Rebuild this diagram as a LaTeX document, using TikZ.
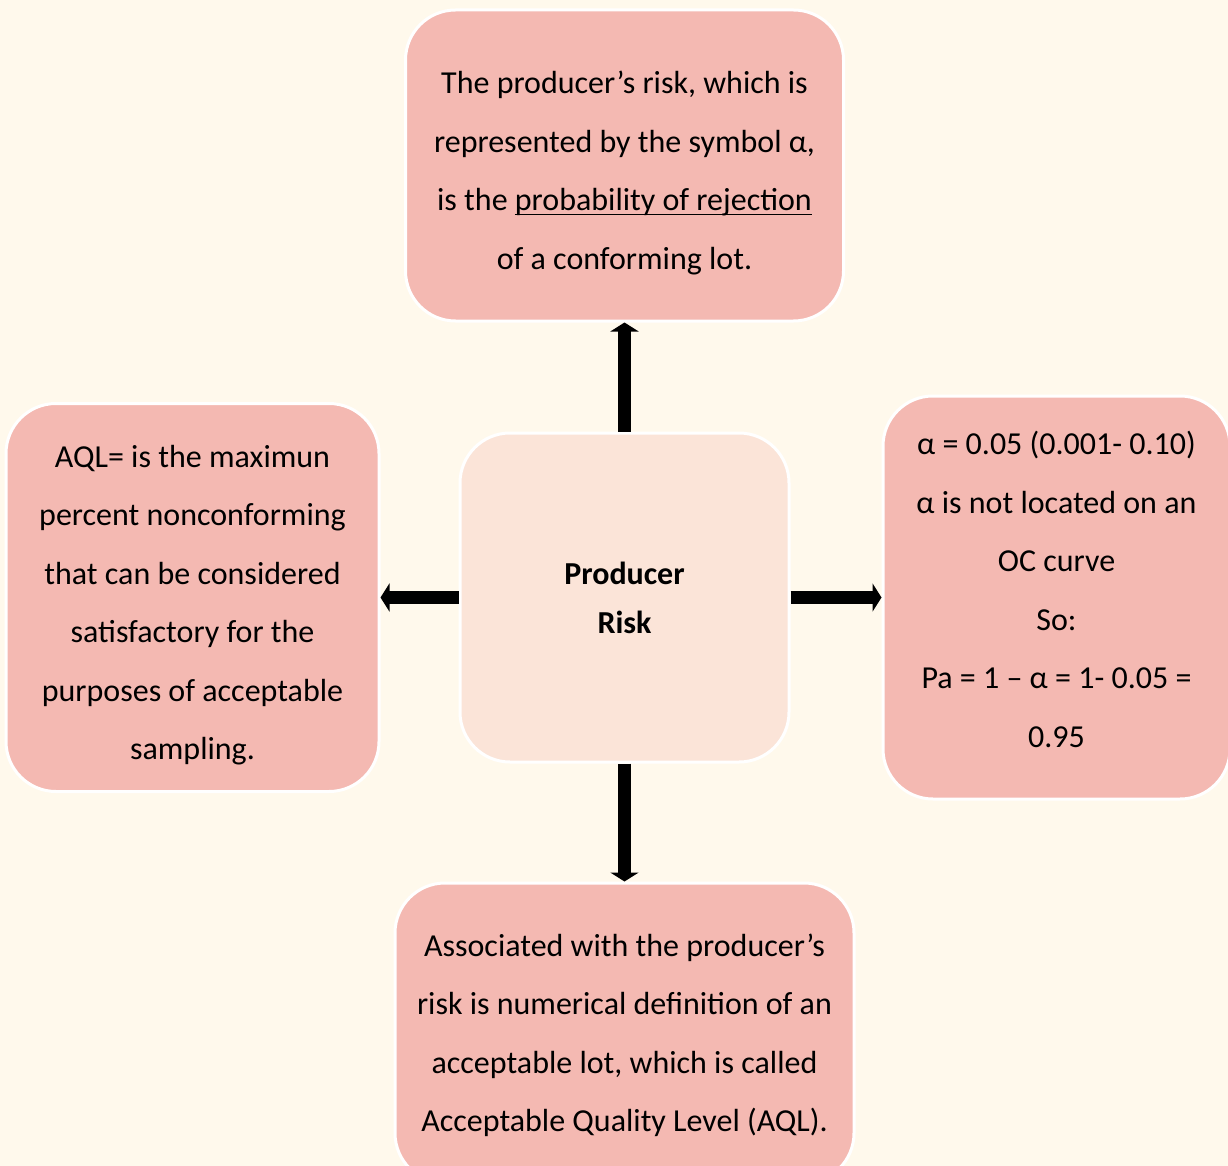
\documentclass[tikz,border=0pt]{standalone}
\usepackage{fontspec}
\setmainfont{Carlito}
\usetikzlibrary{arrows.meta, positioning}

\definecolor{cream}{HTML}{FFF9EC}
\definecolor{riskpink}{HTML}{F4B9B2}
\definecolor{centrepink}{HTML}{FBE4D8}

\newcommand{\underlined}[1]{\leavevmode\setbox0\hbox{#1}%
    \rlap{\rule[-4.5pt]{\wd0}{1.7pt}}\box0}

\begin{document}
\begin{tikzpicture}[x=1pt, y=-1pt,
    riskbox/.style={rectangle, rounded corners=50pt, draw=white, line width=3pt,
        fill=riskpink, inner sep=0pt},
    risktext/.style={align=center, inner sep=0pt,
        font=\fontsize{32}{58.5}\selectfont},
    centrebox/.style={rectangle, rounded corners=50pt, draw=white, line width=3pt,
        fill=centrepink, align=center, inner sep=0pt,
        minimum width=329pt, minimum height=329pt,
        font=\fontsize{32}{49}\selectfont\bfseries},
    thick_arrow/.style={line width=13pt, -{Triangle[width=28pt, length=9pt]}}]

        \fill[cream] (0,0) rectangle (1228,1166);
        \useasboundingbox (0,0) rectangle (1228,1166);

        \node[centrebox] (risk_c) at (624.5,597.5) {Producer\\Risk};

        \node[riskbox, minimum width=438pt, minimum height=311pt]
              (risk_top) [above=109pt of risk_c] {};
        \node[risktext] (text_top) at ([yshift=-7.5pt]risk_top.center)
              {The producer’s risk, which is\\
               represented by the symbol α,\\
               is the \underlined{probability of rejection}\\
               of a conforming lot.};

        \node[riskbox, minimum width=373pt, minimum height=388pt]
              (risk_left) [left=78pt of risk_c] {};
        \node[risktext] (text_left) at ([yshift=-7.5pt]risk_left.center)
              {AQL= is the maximun\\
               percent nonconforming\\
               that can be considered\\
               satisfactory for the\\
               purposes of acceptable\\
               sampling.};

        \node[riskbox, minimum width=347pt, minimum height=403pt]
              (risk_right) [right=91pt of risk_c] {};
        \node[risktext] (text_right) at ([yshift=8pt]risk_right.center)
              {α = 0.05 (0.001- 0.10)\\
               α is not located on an\\
               OC curve\\
               So:\\
               Pa = 1 – α = 1- 0.05 =\\
               0.95};

        \node[riskbox, minimum width=459pt, minimum height=300pt]
              (risk_bottom) [below=118pt of risk_c] {};
        \node[risktext] (text_bottom) at ([yshift=-2.5pt]risk_bottom.center)
              {Associated with the producer’s\\
               risk is numerical definition of an\\
               acceptable lot, which is called\\
               Acceptable Quality Level (AQL).};

        \draw[thick_arrow] (risk_c.north) -- (risk_top.south);
        \draw[thick_arrow] (risk_c.west) -- (risk_left.east);
        \draw[thick_arrow] (risk_c.east) -- (risk_right.west);
        \draw[thick_arrow] (risk_c.south) -- (risk_bottom.north);

\end{tikzpicture}
\end{document}
